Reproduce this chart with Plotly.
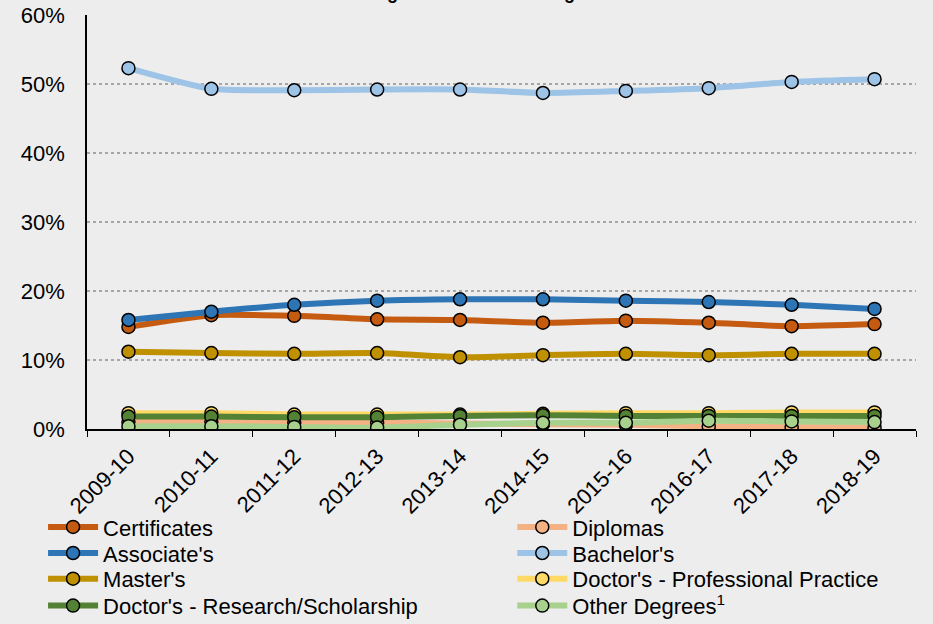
"""Degrees awarded by level, share of total, 2009-10 to 2018-19."""
import plotly.graph_objects as go

years = ["2009-10", "2010-11", "2011-12", "2012-13", "2013-14",
         "2014-15", "2015-16", "2016-17", "2017-18", "2018-19"]

certificates = [14.8, 16.5, 16.4, 15.9, 15.8, 15.4, 15.7, 15.4, 14.9, 15.2]
diplomas = [1.0, 1.0, 0.9, 0.9, 0.8, 0.7, 0.6, 0.4, 0.3, 0.2]
associates = [15.8, 17.0, 18.0, 18.6, 18.8, 18.8, 18.6, 18.4, 18.0, 17.4]
bachelors = [52.3, 49.3, 49.1, 49.2, 49.2, 48.7, 49.0, 49.4, 50.3, 50.7]
masters = [11.2, 11.0, 10.9, 11.0, 10.4, 10.7, 10.9, 10.7, 10.9, 10.9]
doc_professional = [2.3, 2.3, 2.1, 2.1, 2.1, 2.2, 2.3, 2.3, 2.4, 2.4]
doc_research = [1.8, 1.8, 1.7, 1.7, 1.9, 2.0, 1.9, 1.9, 1.9, 1.9]
other_degrees = [0.4, 0.4, 0.3, 0.2, 0.6, 0.9, 0.9, 1.2, 1.1, 1.0]

series = [
    ("Certificates", certificates, "#C55A11"),
    ("Diplomas", diplomas, "#F4B183"),
    ("Associate's", associates, "#2E75B6"),
    ("Bachelor's", bachelors, "#9DC3E6"),
    ("Master's", masters, "#BF9000"),
    ("Doctor's - Professional Practice", doc_professional, "#FFD966"),
    ("Doctor's - Research/Scholarship", doc_research, "#548235"),
    ("Other Degrees<sup>1</sup>", other_degrees, "#A9D18E"),
]

FONT = "Liberation Sans, Arial, sans-serif"

# legend laid out as 2 columns x 4 rows, one small legend per entry
col_x = [-0.053, 0.513]
row_y = [-0.237, -0.300, -0.362, -0.427]

fig = go.Figure()
legends = {}
for i, (name, vals, color) in enumerate(series):
    key = "legend" if i == 0 else f"legend{i + 1}"
    legends[key] = dict(
        x=col_x[i % 2], xanchor="left",
        y=row_y[i // 2], yanchor="middle",
        itemwidth=50,
        font=dict(size=22),
        bgcolor="rgba(0,0,0,0)",
    )
    fig.add_trace(go.Scatter(
        x=years,
        y=[v / 100 for v in vals],
        name=name,
        legend=key,
        mode="lines+markers",
        line=dict(color=color, width=6, shape="spline", smoothing=0.6),
        marker=dict(color=color, size=13, line=dict(color="black", width=1.5)),
    ))

# title sits above the top edge, only its descenders show
fig.add_annotation(
    text="Percentage Distribution of Degrees Awarded",
    x=0.5, xref="paper", y=1, yref="paper",
    yanchor="bottom", yshift=10, showarrow=False,
    font=dict(family=FONT, size=18, color="black", weight="bold"),
)

fig.update_layout(
    width=933,
    height=624,
    margin=dict(l=87, r=17, t=15, b=195, autoexpand=False),
    paper_bgcolor="#EDEDED",
    plot_bgcolor="#EDEDED",
    font=dict(family=FONT, size=22, color="black"),
    showlegend=True,
    **legends,
)
fig.update_xaxes(
    type="category",
    tickangle=-45,
    tickson="boundaries",
    ticks="outside",
    ticklen=6,
    tickcolor="black",
    ticklabelstandoff=4,
    showline=True,
    linecolor="black",
    linewidth=1.5,
    showgrid=False,
    range=[-0.5, 9.5],
)
fig.update_yaxes(
    range=[0, 0.6],
    dtick=0.1,
    tickformat=".0%",
    showline=True,
    linecolor="black",
    linewidth=1.5,
    showgrid=True,
    gridcolor="#A6A6A6",
    griddash="dot",
    gridwidth=1.5,
    zeroline=False,
    ticks="",
    ticklabelstandoff=16,
)

fig.write_html(
    "out.html",
    config={"displayModeBar": False},
    post_script="document.body.style.margin='0';",
)
